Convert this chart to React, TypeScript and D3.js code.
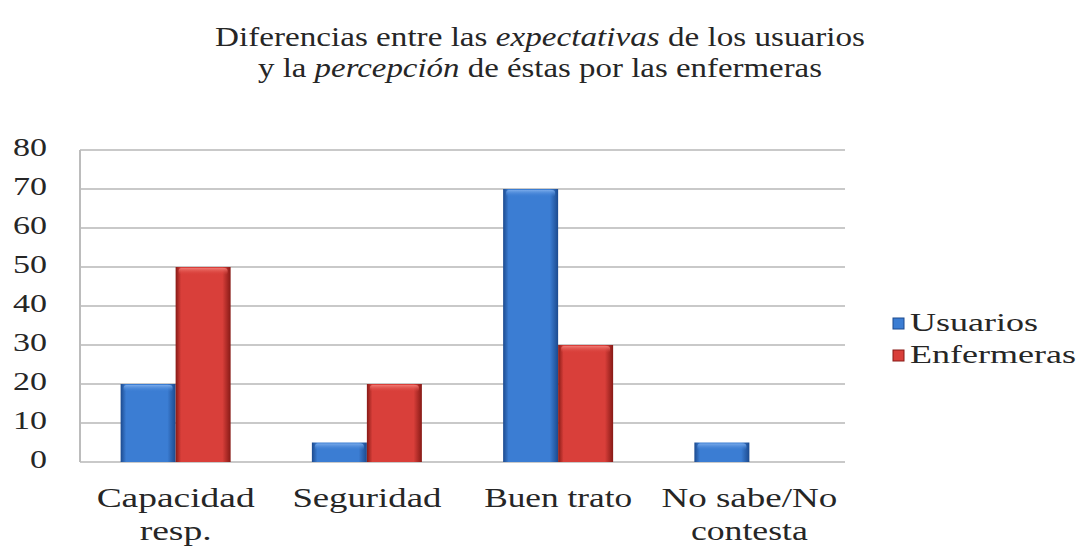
import React from "react";
import * as d3 from "d3";

const categories = [["Capacidad", "resp."], ["Seguridad"], ["Buen trato"], ["No sabe/No", "contesta"]];
const categoryLabelWidths = [[158, 72], [149], [148], [176, 117]];
const seriesNames = ["Usuarios", "Enfermeras"];
const usuarios = [20, 5, 70, 5];
const enfermeras = [50, 20, 30, 0];
const yTicks = [0, 10, 20, 30, 40, 50, 60, 70, 80];
const seriesColors = [
  { base: "#3b7dd3", dark: "#1c4a8e", light: "#79aaea" },
  { base: "#d93f3a", dark: "#871a16", light: "#f07a73" },
];

const FONT = '"Liberation Serif", "Times New Roman", serif';

function T(props: { x: number; y: number; size: number; w: number; anchor?: string; children: React.ReactNode }) {
  return (
    <text
      x={props.x}
      y={props.y}
      fontSize={props.size}
      textAnchor={props.anchor || "middle"}
      textLength={props.w}
      lengthAdjust="spacingAndGlyphs"
      fill="#262626"
      style={{ fontFamily: FONT }}
    >
      {props.children}
    </text>
  );
}

export default function App() {
  const W = 1080, H = 551;
  const left = 80, right = 845, top = 150, bottom = 462;
  const x0 = d3.scaleBand<number>().domain(d3.range(categories.length)).range([left, right]);
  const groupW = 110;
  const x1 = d3.scaleBand<number>().domain([0, 1]).range([0, groupW]);
  const y = d3.scaleLinear().domain([0, 80]).range([bottom, top]);
  const data = [usuarios, enfermeras];

  return (
    <svg width={W} height={H} style={{ display: "block", position: "absolute", left: 0, top: 0 }}>
      <defs>
        {seriesColors.map((c, i) => (
          <linearGradient key={"g" + i} id={`g${i}`} x1="0" x2="1" y1="0" y2="0">
            <stop offset="0" stopColor={c.dark} />
            <stop offset="0.1" stopColor={c.base} />
            <stop offset="0.45" stopColor={c.base} />
            <stop offset="0.85" stopColor={c.base} />
            <stop offset="1" stopColor={c.dark} />
          </linearGradient>
        ))}
        {seriesColors.map((c, i) => (
          <linearGradient key={"t" + i} id={`t${i}`} x1="0" x2="0" y1="0" y2="1">
            <stop offset="0" stopColor={c.light} />
            <stop offset="1" stopColor={c.base} stopOpacity="0" />
          </linearGradient>
        ))}
      </defs>
      <rect width={W} height={H} fill="#ffffff" />
      <T x={540} y={46} size={27} w={650}>
        Diferencias entre las <tspan fontStyle="italic">expectativas</tspan> de los usuarios
      </T>
      <T x={540} y={77} size={27} w={564}>
        y la <tspan fontStyle="italic">percepción</tspan> de éstas por las enfermeras
      </T>
      {yTicks.map((t) => (
        <g key={t}>
          <line x1={left} x2={right} y1={y(t)} y2={y(t)} stroke="#c9c9c9" strokeWidth={2} />
          <T x={47} y={y(t) + 6} size={25} w={String(t).length * 17} anchor="end">{t}</T>
        </g>
      ))}
      <line x1={left} x2={left} y1={top} y2={bottom} stroke="#bcbcbc" strokeWidth={2} />
      {categories.map((cat, ci) => {
        const cx = (x0(ci) as number) + x0.bandwidth() / 2;
        const gx = cx - groupW / 2;
        return (
          <g key={ci}>
            {data.map((vals, si) => {
              const v = vals[ci];
              if (v <= 0) return null;
              const bx = gx + (x1(si) as number);
              const bw = x1.bandwidth();
              const by = y(v);
              const bh = bottom - by;
              return (
                <g key={si}>
                  <rect x={bx} y={by} width={bw} height={bh} fill={`url(#g${si})`} />
                  <rect x={bx + 3} y={by + 1} width={bw - 6} height={Math.min(7, bh - 2)} fill={`url(#t${si})`} rx={3} />
                </g>
              );
            })}
            {cat.map((line, li) => (
              <T key={li} x={cx} y={507 + li * 33} size={27} w={categoryLabelWidths[ci][li]}>{line}</T>
            ))}
          </g>
        );
      })}
      {seriesNames.map((n, i) => (
        <g key={n}>
          <rect x={893} y={318 + i * 32} width={11} height={11} fill={seriesColors[i].base} stroke={seriesColors[i].dark} strokeWidth={1} />
          <T x={910} y={331 + i * 32} size={25} w={i === 0 ? 128 : 166} anchor="start">{n}</T>
        </g>
      ))}
    </svg>
  );
}
